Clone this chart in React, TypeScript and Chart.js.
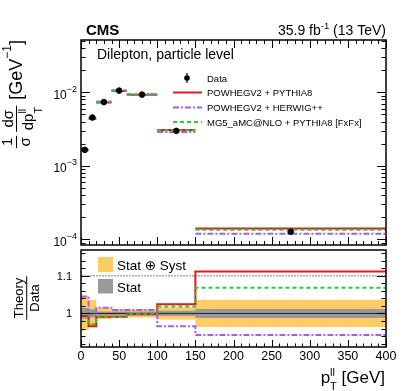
import React, { useEffect, useRef } from "react";
import { Chart, registerables } from "chart.js";

Chart.register(...registerables);

// ---------------- data ----------------
const binEdges = [0, 10, 20, 40, 60, 100, 150, 400];
const dataXsec = [1.65e-3, 4.54e-3, 7.36e-3, 1.055e-2, 9.3e-3, 2.99e-3, 1.27e-4];
const ratioPowhegPythia8 = [0.993, 0.966, 0.991, 0.991, 0.998, 1.024, 1.111];
const ratioPowhegHerwig = [1.045, 0.995, 1.015, 1.009, 1.009, 0.966, 0.943];
const ratioMg5Pythia8 = [1.0, 0.971, 0.992, 0.992, 1.0, 1.018, 1.068];
const relUncTotal = [0.045, 0.036, 0.015, 0.012, 0.011, 0.016, 0.036];
const relUncStat = [0.014, 0.011, 0.005, 0.005, 0.005, 0.007, 0.012];
const xTickLabels = [0, 50, 100, 150, 200, 250, 300, 350, 400];
const logTickExponents = [-2, -3, -4];
const ratioTickLabels = [1, 1.1];
const ratioRefLines = [1, 1.1];
const seriesNames = ["Data", "POWHEGV2 + PYTHIA8", "POWHEGV2 + HERWIG++", "MG5_aMC@NLO + PYTHIA8 [FxFx]"];
const bandNames = ["Stat \u2295 Syst", "Stat"];

// ---------------- styles ----------------
const FONT = '"Liberation Sans", Arial, Helvetica, "DejaVu Sans", sans-serif';
const f = (size: number, bold = false) => `${bold ? "bold " : ""}${size}px ${FONT}`;
const RED = "#e0191c";
const PURPLE = "#a55ef2";
const GREEN = "#2fc92f";
const ORANGE = "#ffcc66";
const GREY = "#999999";
const DASH_PURPLE = [6, 2, 2, 2];
const DASH_GREEN = [4, 3];

const X_MIN = 0, X_MAX = 400, X_MINOR = 10, X_MAJOR = 50;
const LOG_MIN = 8.4e-5, LOG_MAX = 0.0514;
const R_MIN = 0.911, R_MAX = 1.168;

// ---------------- helpers ----------------
const binSegments = (vals: number[]) => {
  const pts: any[] = [];
  vals.forEach((v, i) => {
    pts.push({ x: binEdges[i], y: v }, { x: binEdges[i + 1], y: v }, { x: binEdges[i + 1], y: null });
  });
  return pts;
};
const stepPoints = (vals: number[]) =>
  binEdges.map((e, i) => ({ x: e, y: vals[Math.min(i, vals.length - 1)] }));
const binCenters = binEdges.slice(0, -1).map((e, i) => (e + binEdges[i + 1]) / 2);

function drawRich(ctx: CanvasRenderingContext2D, segs: { t: string; size: number; dy?: number; bold?: boolean }[], x: number, y: number, align: "left" | "right" | "center") {
  ctx.textAlign = "left";
  const widths = segs.map((s) => {
    ctx.font = f(s.size, s.bold);
    return ctx.measureText(s.t).width;
  });
  const total = widths.reduce((a, b) => a + b, 0);
  let cx = align === "right" ? x - total : align === "center" ? x - total / 2 : x;
  segs.forEach((s, i) => {
    ctx.font = f(s.size, s.bold);
    ctx.fillText(s.t, cx, y + (s.dy || 0));
    cx += widths[i];
  });
}

function strokeLine(ctx: CanvasRenderingContext2D, x1: number, y1: number, x2: number, y2: number, color: string, width: number, dash: number[]) {
  ctx.save();
  ctx.strokeStyle = color;
  ctx.lineWidth = width;
  ctx.setLineDash(dash);
  ctx.beginPath();
  ctx.moveTo(x1, y1);
  ctx.lineTo(x2, y2);
  ctx.stroke();
  ctx.restore();
}

// ---------------- plugins ----------------
const topDecor = {
  id: "topDecor",
  afterDraw(chart: any) {
    const { ctx, chartArea: a, scales } = chart;
    const xs = scales.x, ys = scales.y;
    ctx.save();
    ctx.fillStyle = "#000";
    ctx.strokeStyle = "#000";
    ctx.lineWidth = 1;
    ctx.beginPath();
    for (let v = X_MIN; v <= X_MAX; v += X_MINOR) {
      const px = Math.round(xs.getPixelForValue(v)) + 0.5;
      const len = v % X_MAJOR === 0 ? 8 : 4;
      ctx.moveTo(px, a.bottom);
      ctx.lineTo(px, a.bottom - len);
      ctx.moveTo(px, a.top);
      ctx.lineTo(px, a.top + len);
    }
    for (let e = -5; e <= -1; e++) {
      for (let m = 1; m <= 9; m++) {
        const v = m * Math.pow(10, e);
        if (v < ys.min || v > ys.max) continue;
        const py = Math.round(ys.getPixelForValue(v)) + 0.5;
        const len = m === 1 ? 9 : 4.5;
        ctx.moveTo(a.left, py);
        ctx.lineTo(a.left + len, py);
        ctx.moveTo(a.right, py);
        ctx.lineTo(a.right - len, py);
      }
    }
    ctx.stroke();
    ctx.lineWidth = 1.5;
    ctx.strokeRect(a.left, a.top, a.right - a.left, a.bottom - a.top);

    // y tick labels
    logTickExponents.forEach((e) => {
      const py = ys.getPixelForValue(Math.pow(10, e));
      drawRich(ctx, [
        { t: "10", size: 12 },
        { t: "\u2212" + String(-e), size: 9, dy: -7 },
      ], a.left - 4, py + 6.5, "right");
    });

    // header texts
    drawRich(ctx, [{ t: "CMS", size: 15, bold: true }], 86, 35, "left");
    drawRich(ctx, [
      { t: "35.9 fb", size: 14 },
      { t: "-1", size: 9.5, dy: -6 },
      { t: " (13 TeV)", size: 14 },
    ], a.right, 35, "right");
    drawRich(ctx, [{ t: "Dilepton, particle level", size: 14 }], 97, 59, "left");

    // legend
    const rows = [78, 92.5, 107.5, 122];
    const lx1 = 173, lx2 = 202, tx = 207;
    ctx.fillStyle = "#000";
    strokeLine(ctx, 187, rows[0] - 5, 187, rows[0] + 5, "#000", 1.2, []);
    ctx.beginPath();
    ctx.arc(187, rows[0], 2.8, 0, Math.PI * 2);
    ctx.fill();
    strokeLine(ctx, lx1, rows[1], lx2, rows[1], RED, 2, []);
    strokeLine(ctx, lx1, rows[2], lx2, rows[2], PURPLE, 2, DASH_PURPLE);
    strokeLine(ctx, lx1, rows[3], lx2, rows[3], GREEN, 2, DASH_GREEN);
    ctx.fillStyle = "#000";
    seriesNames.forEach((n, i) => drawRich(ctx, [{ t: n, size: 9.5 }], tx, rows[i] + 3.5, "left"));

    // y title (rotated)
    ctx.save();
    ctx.rotate(-Math.PI / 2);
    ctx.font = f(15);
    const w1 = ctx.measureText("1").width, wsig = ctx.measureText("\u03c3").width;
    const wdsig = ctx.measureText("d\u03c3").width, wdp = ctx.measureText("dp").width;
    ctx.font = f(10.5);
    const wT = ctx.measureText("T").width, wll = ctx.measureText("ll").width;
    ctx.font = f(18);
    const wGeV = ctx.measureText("[GeV").width, wBr = ctx.measureText("]").width;
    ctx.font = f(12);
    const wm1 = ctx.measureText("\u22121").width;
    const frac1W = Math.max(w1, wsig) + 3;
    const denW = wdp + Math.max(wT, wll);
    const frac2W = Math.max(wdsig, denW) + 3;
    const gap1 = 4, gap2 = 6;
    const total = frac1W + gap1 + frac2W + gap2 + wGeV + wm1 + wBr;
    let lx = -(40 + total);
    const bar = 16.5;
    ctx.fillRect(lx, bar - 0.5, frac1W, 1);
    ctx.font = f(15);
    ctx.textAlign = "center";
    ctx.fillText("1", lx + frac1W / 2, bar - 5);
    ctx.fillText("\u03c3", lx + frac1W / 2, bar + 13.5);
    lx += frac1W + gap1;
    ctx.fillRect(lx, bar - 0.5, frac2W, 1);
    ctx.fillText("d\u03c3", lx + frac2W / 2, bar - 4);
    ctx.textAlign = "left";
    const dx = lx + (frac2W - denW) / 2;
    ctx.fillText("dp", dx, bar + 16.5);
    ctx.font = f(10.5);
    ctx.fillText("ll", dx + wdp, bar + 9);
    ctx.fillText("T", dx + wdp, bar + 25.5);
    lx += frac2W + gap2;
    ctx.font = f(18);
    ctx.fillText("[GeV", lx, 21.5);
    lx += wGeV;
    ctx.font = f(12);
    ctx.fillText("\u22121", lx, 11);
    lx += wm1;
    ctx.font = f(18);
    ctx.fillText("]", lx, 21.5);
    ctx.restore();

    ctx.restore();
  },
};

const botDecor = {
  id: "botDecor",
  afterDraw(chart: any) {
    const { ctx, chartArea: a, scales } = chart;
    const xs = scales.x, ys = scales.y;
    ctx.save();
    ctx.fillStyle = "#000";
    ctx.strokeStyle = "#000";
    ctx.lineWidth = 1;
    ctx.beginPath();
    for (let v = X_MIN; v <= X_MAX; v += X_MINOR) {
      const px = Math.round(xs.getPixelForValue(v)) + 0.5;
      const len = v % X_MAJOR === 0 ? 7 : 3.5;
      ctx.moveTo(px, a.bottom);
      ctx.lineTo(px, a.bottom - len);
    }
    for (let k = Math.ceil(R_MIN * 50); k <= Math.floor(R_MAX * 50); k++) {
      const v = k / 50;
      const py = Math.round(ys.getPixelForValue(v)) + 0.5;
      const len = k % 5 === 0 ? 9 : 4.5;
      ctx.moveTo(a.left, py);
      ctx.lineTo(a.left + len, py);
      ctx.moveTo(a.right, py);
      ctx.lineTo(a.right - len, py);
    }
    ctx.stroke();
    ctx.lineWidth = 1.5;
    ctx.strokeRect(a.left, a.top, a.right - a.left, a.bottom - a.top);

    // tick labels
    ratioTickLabels.forEach((v) => {
      drawRich(ctx, [{ t: String(v), size: 11 }], 72, ys.getPixelForValue(v) + 4, "right");
    });
    xTickLabels.forEach((v) => {
      drawRich(ctx, [{ t: String(v), size: 12.5 }], xs.getPixelForValue(v), 111, "center");
    });

    // x title
    ctx.font = f(17);
    const wP = ctx.measureText("p").width;
    const wGeV = ctx.measureText(" [GeV]").width;
    ctx.font = f(11);
    const wsc = Math.max(ctx.measureText("ll").width, ctx.measureText("T").width);
    let x0 = a.right - 1 - (wP + wsc + wGeV);
    ctx.textAlign = "left";
    ctx.font = f(17);
    ctx.fillText("p", x0, 134);
    x0 += wP;
    ctx.font = f(11);
    ctx.fillText("ll", x0, 127);
    ctx.fillText("T", x0, 141);
    x0 += wsc;
    ctx.font = f(17);
    ctx.fillText(" [GeV]", x0, 134);

    // y title (rotated fraction)
    ctx.save();
    ctx.rotate(-Math.PI / 2);
    ctx.font = f(13);
    const wTh = ctx.measureText("Theory").width;
    const cy = -49;
    ctx.fillRect(cy - wTh / 2 - 1.5, 26.2, wTh + 3, 1);
    ctx.textAlign = "center";
    ctx.fillText("Theory", cy, 22.5);
    ctx.fillText("Data", cy, 38.8);
    ctx.restore();

    // legend
    ctx.fillStyle = ORANGE;
    ctx.fillRect(98, 8, 15, 15);
    ctx.fillStyle = GREY;
    ctx.fillRect(98, 30, 15, 14.5);
    ctx.fillStyle = "#000";
    drawRich(ctx, [{ t: bandNames[0], size: 13.5 }], 117, 21, "left");
    drawRich(ctx, [{ t: bandNames[1], size: 13.5 }], 117, 43, "left");
    ctx.restore();
  },
};

const baseOptions = (yScale: any, padding: any, plugin: any) => ({
  type: "line" as const,
  options: {
    responsive: false,
    maintainAspectRatio: false,
    animation: false as const,
    devicePixelRatio: 1,
    events: [] as any[],
    layout: { padding },
    elements: { line: { tension: 0 }, point: { radius: 0 } },
    plugins: { legend: { display: false }, tooltip: { enabled: false } },
    scales: {
      x: { type: "linear", min: X_MIN, max: X_MAX, display: false },
      y: yScale,
    },
  },
  plugins: [plugin],
});

export default function App() {
  const topRef = useRef<HTMLCanvasElement>(null);
  const botRef = useRef<HTMLCanvasElement>(null);

  useEffect(() => {
    const theory = (r: number[]) => dataXsec.map((d, i) => d * r[i]);
    const topCfg: any = baseOptions(
      { type: "logarithmic", min: LOG_MIN, max: LOG_MAX, display: false },
      { left: 81, right: 21, top: 40, bottom: 1 },
      topDecor
    );
    topCfg.data = {
      datasets: [
        {
          data: binCenters.map((x, i) => ({ x, y: dataXsec[i] })),
          showLine: false,
          pointRadius: 2.8,
          pointBackgroundColor: "#000",
          pointBorderColor: "#000",
          borderColor: "#000",
        },
        { data: binSegments(theory(ratioMg5Pythia8)), borderColor: GREEN, borderWidth: 2, borderDash: DASH_GREEN, spanGaps: false },
        { data: binSegments(theory(ratioPowhegHerwig)), borderColor: PURPLE, borderWidth: 2, borderDash: DASH_PURPLE, spanGaps: false },
        { data: binSegments(theory(ratioPowhegPythia8)), borderColor: RED, borderWidth: 2, spanGaps: false },
      ],
    };

    const botCfg: any = baseOptions(
      { type: "linear", min: R_MIN, max: R_MAX, display: false },
      { left: 81, right: 21, top: 1, bottom: 44 },
      botDecor
    );
    const band = (u: number[], s: number) => stepPoints(u.map((e) => 1 + s * e));
    botCfg.data = {
      datasets: [
        { data: stepPoints(ratioMg5Pythia8), borderColor: GREEN, borderWidth: 2, borderDash: DASH_GREEN, stepped: "before" },
        { data: stepPoints(ratioPowhegHerwig), borderColor: PURPLE, borderWidth: 2, borderDash: DASH_PURPLE, stepped: "before" },
        { data: stepPoints(ratioPowhegPythia8), borderColor: RED, borderWidth: 2, stepped: "before" },
        { data: [{ x: X_MIN, y: ratioRefLines[0] }, { x: X_MAX, y: ratioRefLines[0] }], borderColor: "#222", borderWidth: 1 },
        { data: [{ x: X_MIN, y: ratioRefLines[1] }, { x: X_MAX, y: ratioRefLines[1] }], borderColor: "#aaaaaa", borderWidth: 1.5, borderDash: [2, 1] },
        { data: band(relUncStat, 1), borderWidth: 0, borderColor: "rgba(0,0,0,0)", backgroundColor: GREY, fill: "+1", stepped: "before" },
        { data: band(relUncStat, -1), borderWidth: 0, borderColor: "rgba(0,0,0,0)", stepped: "before" },
        { data: band(relUncTotal, 1), borderWidth: 0, borderColor: "rgba(0,0,0,0)", backgroundColor: ORANGE, fill: "+1", stepped: "before" },
        { data: band(relUncTotal, -1), borderWidth: 0, borderColor: "rgba(0,0,0,0)", stepped: "before" },
      ],
    };

    const top = new Chart(topRef.current as HTMLCanvasElement, topCfg);
    const bot = new Chart(botRef.current as HTMLCanvasElement, botCfg);
    return () => {
      top.destroy();
      bot.destroy();
    };
  }, []);

  return (
    <div style={{ position: "fixed", left: 0, top: 0, width: 407, height: 391, background: "#fff" }}>
      <canvas ref={topRef} width={407} height={250} style={{ position: "absolute", left: 0, top: 0, width: 407, height: 250 }} />
      <canvas ref={botRef} width={407} height={142} style={{ position: "absolute", left: 0, top: 249, width: 407, height: 142 }} />
    </div>
  );
}
